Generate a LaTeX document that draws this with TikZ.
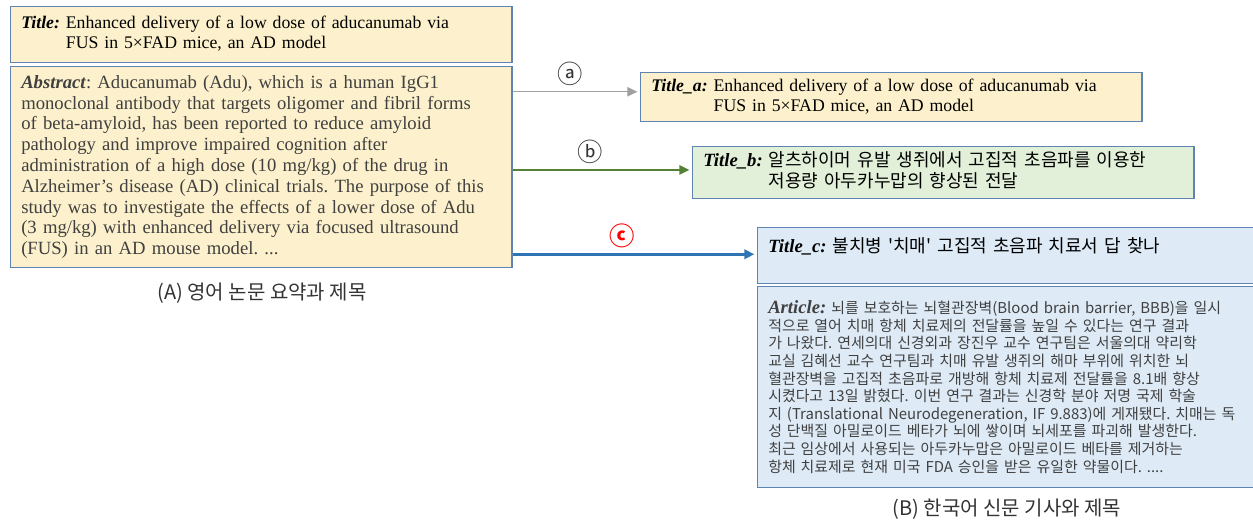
\documentclass[tikz,border=0pt]{standalone}
\usepackage{fontspec}
\setmainfont{Liberation Serif}
\newfontfamily\kr{Noto Sans CJK KR}
\usetikzlibrary{arrows.meta}

\definecolor{boxline}{HTML}{5F84B4}
\definecolor{paleyellow}{HTML}{FCF1CC}
\definecolor{palegreen}{HTML}{E2EFD9}
\definecolor{paleblue}{HTML}{DEEBF7}
\definecolor{arrowgray}{HTML}{A0A0A0}
\definecolor{arrowgreen}{HTML}{548235}
\definecolor{arrowblue}{HTML}{2E75B6}
\definecolor{bodytext}{HTML}{404040}

\newcommand{\lbl}[1]{\textbf{\textit{#1}}}
\newcommand{\serlbl}[1]{{\rmfamily\fontsize{14}{15.4}\selectfont\lbl{#1}}}
\frenchspacing

\begin{document}
\begin{tikzpicture}[
x=0.75pt,y=-0.75pt,
panel/.style={draw=boxline,line width=0.9pt,anchor=north west,align=left,inner xsep=8pt,inner ysep=3pt,text width=360pt},
engtext/.style={font=\fontsize{13.3}{15}\selectfont},
kortext/.style={font=\kr\fontsize{13.5}{15.4}\selectfont},
caption/.style={font=\kr\fontsize{15}{18}\selectfont,text=black!80},
arrowlabel/.style={font=\kr\fontsize{19}{19}\selectfont,inner sep=1pt,above=3pt},
arrow/.style={-{Triangle[length=7.5pt,width=7pt]},shorten >=2pt} ]

\useasboundingbox (0,0) rectangle (1253,524);

\node[panel,engtext,fill=paleyellow,minimum height=42pt](title) at (10,6)
{\begin{tabular}{@{}l@{ }l@{}}
\lbl{Title:} & Enhanced delivery of a low dose of aducanumab via\\
 & FUS in 5×FAD mice, an AD model
\end{tabular}};

\node[panel,fill=paleyellow,text=bodytext,minimum height=150.75pt,font=\fontsize{14}{15.6}\selectfont](abstract) at (10,66)
{\lbl{Abstract}: Aducanumab (Adu), which is a human IgG1\\
monoclonal antibody that targets oligomer and fibril forms\\
of beta-amyloid, has been reported to reduce amyloid\\
pathology and improve impaired cognition after\\
administration of a high dose (10 mg/kg) of the drug in\\
Alzheimer’s disease (AD) clinical trials. The purpose of this\\
study was to investigate the effects of a lower dose of Adu\\
(3 mg/kg) with enhanced delivery via focused ultrasound\\
(FUS) in an AD mouse model. ...};

\node[panel,engtext,fill=paleyellow,minimum height=36.75pt](titlea) at (640,72)
{\begin{tabular}{@{}l@{ }l@{}}
\lbl{Title\_a:} & Enhanced delivery of a low dose of aducanumab via\\
 & FUS in 5×FAD mice, an AD model
\end{tabular}};

\node[panel,kortext,fill=palegreen,minimum height=39pt](titleb) at (692,146)
{\begin{tabular}{@{}l@{ }l@{}}
\serlbl{Title\_b:} & 알츠하이머 유발 생쥐에서 고집적 초음파를 이용한\\
 & 저용량 아두카누맙의 향상된 전달
\end{tabular}};

\node[panel,kortext,fill=paleblue,minimum height=42pt](titlec) at (757,227)
{\serlbl{Title\_c:} 불치병 '치매' 고집적 초음파 치료서 답 찾나\\ \mbox{}};

\node[panel,fill=paleblue,text=bodytext,minimum height=150.75pt,font=\kr\fontsize{11.2}{13.2}\selectfont](article) at (757,286)
{{\rmfamily\fontsize{14}{13.2}\selectfont\lbl{Article:}} 뇌를 보호하는 뇌혈관장벽(Blood brain barrier, BBB)을 일시\\
적으로 열어 치매 항체 치료제의 전달률을 높일 수 있다는 연구 결과\\
가 나왔다. 연세의대 신경외과 장진우 교수 연구팀은 서울의대 약리학\\
교실 김혜선 교수 연구팀과 치매 유발 생쥐의 해마 부위에 위치한 뇌\\
혈관장벽을 고집적 초음파로 개방해 항체 치료제 전달률을 8.1배 향상\\
시켰다고 13일 밝혔다. 이번 연구 결과는 신경학 분야 저명 국제 학술\\
지 (Translational Neurodegeneration, IF 9.883)에 게재됐다. 치매는 독\\
성 단백질 아밀로이드 베타가 뇌에 쌓이며 뇌세포를 파괴해 발생한다.\\
최근 임상에서 사용되는 아두카누맙은 아밀로이드 베타를 제거하는\\
항체 치료제로 현재 미국 FDA 승인을 받은 유일한 약물이다. ....};

\node[caption](capA) at (262,293) {(A) 영어 논문 요약과 제목};

\node[caption](capB) at (1007,509) {(B) 한국어 신문 기사와 제목};

\draw[arrow,arrowgray,line width=0.9pt] ([yshift=4pt]abstract.east |- titlea.west) -- node[arrowlabel,text=black!80,pos=0.45] {ⓐ} ([yshift=4pt]titlea.west);

\draw[arrow,arrowgreen,line width=1.5pt] ([yshift=2pt]abstract.east |- titleb.west) -- node[arrowlabel,text=black!80,pos=0.43] {ⓑ} ([yshift=2pt]titleb.west);

\draw[arrow,arrowblue,line width=2.2pt] ([yshift=1pt]abstract.east |- titlec.west) -- node[arrowlabel,text=red,font=\kr\bfseries\fontsize{19}{19}\selectfont,pos=0.45] {ⓒ} ([yshift=1pt]titlec.west);

\end{tikzpicture}
\end{document}
